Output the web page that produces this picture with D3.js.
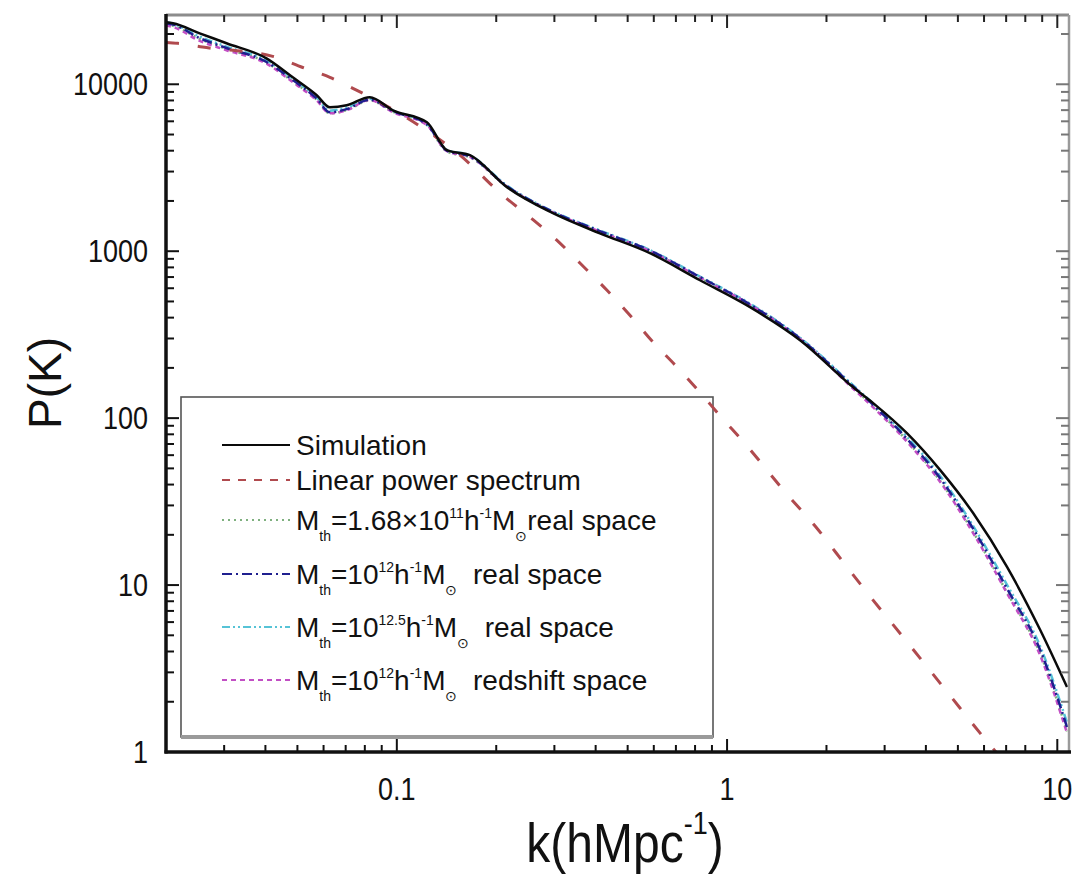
<!DOCTYPE html>
<html><head><meta charset="utf-8">
<script src="https://cdn.jsdelivr.net/npm/d3@7"></script>
<style>
body{margin:0;background:#fff}
svg{display:block}
text{font-family:"Liberation Sans",Arial,Helvetica,sans-serif;fill:#111;white-space:pre}
</style>
</head><body>
<svg id="chart" width="1073" height="885"></svg>
<script>
// ---------- data ----------
const xTickValues = [0.1, 1, 10];
const xTickLabels = ["0.1", "1", "10"];
const yTickValues = [1, 10, 100, 1000, 10000];
const yTickLabels = ["1", "10", "100", "1000", "10000"];

const simK = [0.02, 0.021, 0.0253, 0.0305, 0.0403, 0.0484, 0.0572, 0.0627, 0.0705, 0.0828, 0.0973, 0.1233, 0.1418, 0.1665, 0.2155, 0.297, 0.412, 0.584, 0.828, 1.174, 1.664, 2.41, 2.77, 3.51, 4.42, 5.56, 7.05, 8.87, 10.7];
const simP = [23500, 23200, 20200, 17600, 14300, 11000, 8600, 7280, 7480, 8360, 6980, 5920, 4030, 3760, 2420, 1690, 1280, 973, 670, 462, 293, 153, 123, 81, 48.8, 27, 12.8, 5.4, 2.45];

const linK = [0.02, 0.0217, 0.0258, 0.0421, 0.0519, 0.0627, 0.0736, 0.0888, 0.1175, 0.1553, 0.2094, 0.253, 0.305, 0.359, 0.433, 0.508, 0.597, 0.696, 0.817, 0.966, 1.11, 1.5, 1.85, 2.31, 2.66, 3.51, 4.64, 6.14, 7.0];
const linP = [17800, 17600, 16700, 14700, 12600, 11000, 9460, 7800, 5610, 3760, 2160, 1600, 1165, 847, 583, 414, 285, 208, 147, 100, 73.8, 36, 22.5, 12.8, 8.96, 4.56, 2.29, 1.15, 0.85];

const haloK = simK;
const halo168P = [22800, 22400, 18700, 16300, 13500, 10400, 8100, 6700, 7000, 8000, 6850, 5700, 3950, 3650, 2430, 1700, 1300, 995, 690, 475, 298, 152, 118, 73, 42, 20.8, 9.0, 3.9, 1.33];
const halo12P  = [23200, 22800, 18900, 16500, 13600, 10600, 8200, 6800, 7100, 8100, 6900, 5750, 4000, 3700, 2450, 1720, 1320, 1010, 700, 480, 300, 155, 120, 75, 43.6, 21.8, 9.5, 4.1, 1.41];
const halo125P = [23500, 23000, 19300, 16800, 13900, 10800, 8350, 6950, 7250, 8200, 6950, 5800, 4050, 3750, 2470, 1730, 1330, 1015, 705, 485, 303, 157, 122, 77, 45, 22.6, 10.0, 4.3, 1.5];
const haloRsP  = [22500, 22000, 18200, 16000, 13300, 10300, 8000, 6700, 7000, 8050, 6800, 5700, 3980, 3680, 2440, 1710, 1310, 1000, 695, 478, 298, 150, 116, 72, 41.5, 20.5, 8.9, 3.8, 1.30];

// ---------- layout ----------
const svg = d3.select("#chart");
const L = 166, R = 1069, T = 15, B = 752;
const x = d3.scaleLog().domain([0.02, 10.85]).range([L, R]);
const y = d3.scaleLog().domain([1, 26000]).range([B, T]);

const defs = svg.append("defs");
defs.append("clipPath").attr("id", "clip").append("rect")
  .attr("x", L).attr("y", T).attr("width", R - L).attr("height", B - T);

function label(sel, px, py, s, size, anchor, sy) {
  return sel.append("text")
    .attr("transform", `translate(${px},${py}) scale(1,${sy})`)
    .attr("font-size", size).attr("text-anchor", anchor).text(s);
}

// ---------- series ----------
const line = d3.line().x(d => x(d[0])).y(d => y(d[1])).curve(d3.curveMonotoneX);
const zip = (ks, ps) => ks.map((k, i) => [k, ps[i]]);

const series = [
  {name: "halo168", data: zip(haloK, halo168P), color: "#7fb07f", width: 2.5, dash: "2,4"},
  {name: "halo125", data: zip(haloK, halo125P), color: "#56c3d6", width: 2.5, dash: "8,3,2,3,2,3"},
  {name: "haloRs",  data: zip(haloK, haloRsP),  color: "#c24fc4", width: 2.5, dash: "5,4"},
  {name: "halo12",  data: zip(haloK, halo12P),  color: "#1f1f8f", width: 2.5, dash: "10,4,2,4"},
  {name: "linear",  data: zip(linK, linP),      color: "#b04a4e", width: 3,   dash: "13,19"},
  {name: "sim",     data: zip(simK, simP),      color: "#0a0a0a", width: 2.5, dash: null}
];

// ---------- legend box ----------
const lg = svg.append("g");
lg.append("rect").attr("x", 181).attr("y", 397).attr("width", 532).attr("height", 340)
  .attr("fill", "#fff").attr("stroke", "#555").attr("stroke-width", 1.6);
lg.append("line").attr("x1", 181).attr("x2", 713).attr("y1", 737).attr("y2", 737)
  .attr("stroke", "#9a9a9a").attr("stroke-width", 4);

const plot = svg.append("g").attr("clip-path", "url(#clip)");
series.forEach(s => {
  plot.append("path").attr("d", line(s.data)).attr("fill", "none")
    .attr("stroke", s.color).attr("stroke-width", s.width)
    .attr("stroke-dasharray", s.dash).attr("stroke-linejoin", "round");
});

// ---------- axes ----------
const ax = svg.append("g");
const xAll = x.ticks();
const yAll = y.ticks();
const isMajor = v => Math.abs(Math.log10(v) - Math.round(Math.log10(v))) < 1e-6;

// top and right (gray frame)
ax.append("line").attr("x1", L).attr("x2", R).attr("y1", T).attr("y2", T).attr("stroke", "#8c8c8c").attr("stroke-width", 3);
ax.append("line").attr("x1", R).attr("x2", R).attr("y1", T).attr("y2", B).attr("stroke", "#9a9a9a").attr("stroke-width", 2.5);
xAll.forEach(v => {
  const len = isMajor(v) ? 13 : 7;
  ax.append("line").attr("x1", x(v)).attr("x2", x(v)).attr("y1", T).attr("y2", T + len)
    .attr("stroke", "#222").attr("stroke-width", 2);
  ax.append("line").attr("x1", x(v)).attr("x2", x(v)).attr("y1", B).attr("y2", B - len)
    .attr("stroke", "#111").attr("stroke-width", 2);
});
yAll.forEach(v => {
  const len = isMajor(v) ? 13 : 8;
  ax.append("line").attr("y1", y(v)).attr("y2", y(v)).attr("x1", L).attr("x2", L + len)
    .attr("stroke", "#111").attr("stroke-width", 2);
  ax.append("line").attr("y1", y(v)).attr("y2", y(v)).attr("x1", R).attr("x2", R - len)
    .attr("stroke", "#777").attr("stroke-width", 2);
});
// left and bottom (thick black)
ax.append("line").attr("x1", L).attr("x2", L).attr("y1", T - 1).attr("y2", B + 1.5).attr("stroke", "#111").attr("stroke-width", 3.5);
ax.append("line").attr("x1", L - 1.5).attr("x2", R + 2).attr("y1", B).attr("y2", B).attr("stroke", "#111").attr("stroke-width", 3.5);

// tick labels
xTickValues.forEach((v, i) => label(ax, x(v), 800, xTickLabels[i], 27, "middle", 1.13));
yTickValues.forEach((v, i) => label(ax, 148, y(v) + 11, yTickLabels[i], 27, "end", 1.13));

// axis titles
svg.append("text").attr("transform", "translate(61,383) rotate(-90)")
  .attr("font-size", 46).attr("text-anchor", "middle").text("P(K)");
const xt = svg.append("text").attr("transform", "translate(625,862) scale(1,1.15)")
  .attr("font-size", 48).attr("text-anchor", "middle");
xt.append("tspan").text("k(hMpc");
xt.append("tspan").attr("font-size", 27).attr("dy", -24).text("-1");
xt.append("tspan").attr("dy", 24).text(")");

// ---------- legend entries ----------
const legendRows = [
  {s: series[5], y: 455, parts: [{t: "Simulation"}]},
  {s: series[4], y: 490, parts: [{t: "Linear power spectrum"}]},
  {s: series[0], y: 530, parts: [{t: "M"}, {t: "th", v: "sub"}, {t: "=1.68\u00d710"}, {t: "11", v: "sup"}, {t: "h"}, {t: "-1", v: "sup"}, {t: "M"}, {t: "\u2299", v: "sub"}, {t: "real space"}]},
  {s: series[3], y: 584, parts: [{t: "M"}, {t: "th", v: "sub"}, {t: "=10"}, {t: "12", v: "sup"}, {t: "h"}, {t: "-1", v: "sup"}, {t: "M"}, {t: "\u2299", v: "sub"}, {t: "  real space"}]},
  {s: series[1], y: 637, parts: [{t: "M"}, {t: "th", v: "sub"}, {t: "=10"}, {t: "12.5", v: "sup"}, {t: "h"}, {t: "-1", v: "sup"}, {t: "M"}, {t: "\u2299", v: "sub"}, {t: "  real space"}]},
  {s: series[2], y: 690, parts: [{t: "M"}, {t: "th", v: "sub"}, {t: "=10"}, {t: "12", v: "sup"}, {t: "h"}, {t: "-1", v: "sup"}, {t: "M"}, {t: "\u2299", v: "sub"}, {t: "  redshift space"}]}
];
legendRows.forEach(r => {
  lg.append("line").attr("x1", 222).attr("x2", 290).attr("y1", r.y - 10).attr("y2", r.y - 10)
    .attr("stroke", r.s.color).attr("stroke-width", 2.2)
    .attr("stroke-dasharray", r.s.dash ? (r.s.name === "linear" ? "8,8" : r.s.dash) : null);
  const t = lg.append("text").attr("x", 296).attr("y", r.y).attr("font-size", 28);
  let cur = 0;
  r.parts.forEach(p => {
    const off = p.v === "sub" ? 11 : p.v === "sup" ? -12 : 0;
    t.append("tspan").attr("dy", off - cur).attr("font-size", p.v ? 14 : 28).text(p.t);
    cur = off;
  });
});
</script>
</body></html>
